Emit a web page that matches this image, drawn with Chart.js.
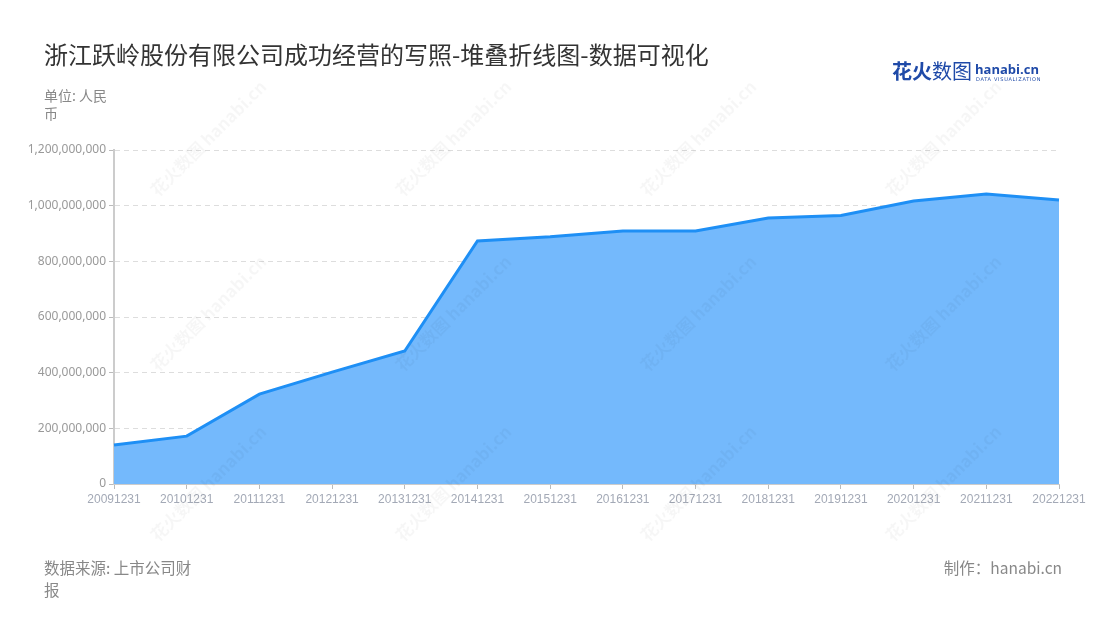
<!DOCTYPE html>
<html><head><meta charset="utf-8">
<script src="https://cdn.jsdelivr.net/npm/chart.js@4.4.1/dist/chart.umd.min.js"></script>
<style>
html,body{margin:0;padding:0;background:#fff;}
#wrap{position:relative;width:1100px;height:620px;overflow:hidden;font-family:"Noto Sans CJK SC","Noto Sans",sans-serif;}
#c{position:absolute;left:0;top:0;}
.t{position:absolute;white-space:nowrap;}
#title{left:44px;top:38px;font-size:24px;color:#333;line-height:32px;}
#unit{left:44px;top:86px;font-size:14px;color:#888;white-space:normal;width:66px;line-height:18px;}
#src{left:44px;top:556px;font-size:15.5px;color:#888;white-space:normal;width:158px;line-height:22px;}
#by{right:38px;top:556px;font-size:15.5px;color:#888;line-height:22px;}
#logo{left:892px;top:59px;height:24px;}
.wm{position:absolute;transform:rotate(-45deg);color:rgba(0,0,0,0.035);font-size:17px;font-weight:bold;white-space:nowrap;pointer-events:none;}
</style></head>
<body><div id="wrap">
<canvas id="c" width="1100" height="620"></canvas>
<div class="t" id="title">浙江跃岭股份有限公司成功经营的写照-堆叠折线图-数据可视化</div>
<div class="t" id="unit">单位: 人民币</div>
<div class="t" id="src">数据来源: 上市公司财报</div>
<div class="t" id="by">制作：hanabi.cn</div>
<div class="t" id="logo">
 <span style="position:absolute;left:0;top:0;font-size:20px;line-height:24px;color:#1f4aa8;white-space:nowrap;"><b>花火</b>数图</span>
 <span style="position:absolute;left:83px;top:2px;font-family:'Open Sans',sans-serif;font-size:13px;line-height:16px;font-weight:bold;color:#1f4aa8;white-space:nowrap;">hanabi.cn</span>
 <span style="position:absolute;left:84px;top:17px;font-family:'DejaVu Sans',sans-serif;font-size:5px;line-height:6px;color:#1f4aa8;letter-spacing:0.7px;white-space:nowrap;">DATA VISUALIZATION</span>
</div>
</div>
<script>
const categories = ["20091231","20101231","20111231","20121231","20131231","20141231","20151231","20161231","20171231","20181231","20191231","20201231","20211231","20221231"];
const revenue = [140000000,172000000,323000000,402000000,478000000,873000000,888000000,909000000,909000000,956000000,965000000,1017000000,1042000000,1020000000];
const yTicks = [0,200000000,400000000,600000000,800000000,1000000000,1200000000];

// faint watermarks
[130,375,620,865].forEach(x=>{[125,300,470].forEach(y=>{
  const d=document.createElement('div');d.className='wm';d.style.left=(x)+'px';d.style.top=(y)+'px';
  d.textContent='花火数图 hanabi.cn';document.getElementById('wrap').appendChild(d);
});});

new Chart(document.getElementById('c'), {
  type:'line',
  data:{labels:categories,datasets:[{
    data:revenue,
    borderColor:'#1e8ff5',
    backgroundColor:'rgba(116,185,252,1)',
    borderWidth:3,
    fill:'origin',
    pointRadius:0,
    tension:0
  }]},
  options:{
    responsive:false,animation:false,
    layout:{padding:{left:0,top:150,right:41,bottom:0}},
    plugins:{legend:{display:false},tooltip:{enabled:false}},
    scales:{
      x:{
        offset:false,
        grid:{display:true,drawOnChartArea:false,drawTicks:true,tickLength:5,color:'#bbb'},
        border:{display:true,color:'#ccc',width:1},
        ticks:{color:'#a3a9b6',font:{size:12,family:'"Liberation Sans","Noto Sans",sans-serif'},padding:3,maxRotation:0,autoSkip:false},
        afterFit:s=>{s.height=136;}
      },
      y:{
        min:0,max:1200000000,
        afterBuildTicks:s=>{s.ticks=yTicks.map(v=>({value:v}));},
        grid:{color:'#dddddd',tickColor:'#bbb',tickLength:5,drawTicks:true,tickBorderDash:[0,0]},
        border:{display:true,color:'#ccc',width:2,dash:[5,4]},
        ticks:{color:'#999',font:{size:12,family:'"Noto Sans","Liberation Sans",sans-serif'},padding:3,
          callback:v=>v.toLocaleString('en-US')},
        afterFit:s=>{s.width=114;}
      }
    }
  }
});
</script>
</body></html>
